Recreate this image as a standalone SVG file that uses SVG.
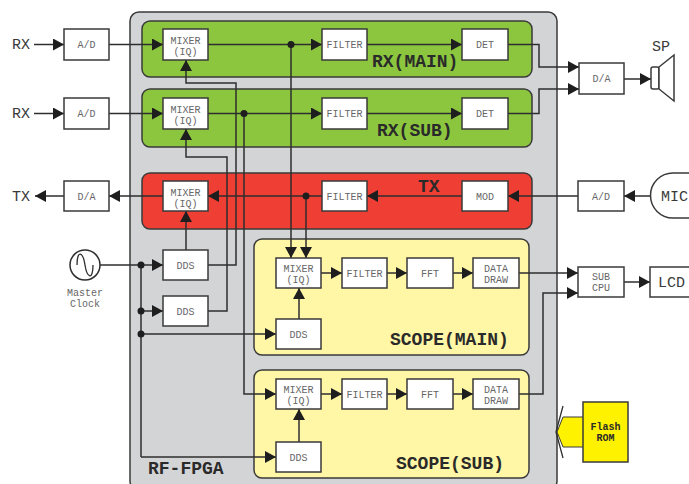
<svg xmlns="http://www.w3.org/2000/svg" width="689" height="484" viewBox="0 0 689 484">
<style>
.blk{fill:#fff;stroke:#3a3a3a;stroke-width:1.5}
.t{font-family:"Liberation Mono",monospace;font-size:10px;fill:#666;text-anchor:middle}
.big{font-family:"Liberation Mono",monospace;font-size:18px;font-weight:bold;fill:#2a2a2a}
.ext{font-family:"Liberation Mono",monospace;font-size:15px;fill:#3a3a3a}
.w{fill:none;stroke:#2e2e2e;stroke-width:1.5}
.a{marker-end:url(#ah)}
.dot{fill:#1e1e1e}
</style>
<defs>
<marker id="ah" markerUnits="userSpaceOnUse" markerWidth="11" markerHeight="12" refX="11" refY="6" orient="auto">
<path d="M0,0 L11,6 L0,12 z" fill="#1e1e1e"/>
</marker>
</defs>

<g id="fpga">
<rect x="130" y="12" width="427" height="478" rx="9" fill="#d3d4d6" stroke="#3a3a3a" stroke-width="1.5"/>
<text class="big" x="148" y="474">RF-FPGA</text>
</g>
<g id="rxmain-grp">
<rect x="142" y="21" width="390" height="56" rx="8" fill="#8cc63f" stroke="#3a3a3a" stroke-width="1.5"/>
<text class="big" x="372" y="67">RX(MAIN)</text>
</g>
<g id="rxsub-grp">
<rect x="142" y="89" width="390" height="58" rx="8" fill="#8cc63f" stroke="#3a3a3a" stroke-width="1.5"/>
<text class="big" x="377" y="136">RX(SUB)</text>
</g>
<g id="tx-grp">
<rect x="142" y="173" width="390" height="56" rx="8" fill="#ef3e33" stroke="#3a3a3a" stroke-width="1.5"/>
<text class="big" x="418" y="192">TX</text>
</g>
<g id="scopemain-grp">
<rect x="254" y="239" width="275" height="116" rx="8" fill="#fff6a6" stroke="#3a3a3a" stroke-width="1.5"/>
<text class="big" x="390" y="345">SCOPE(MAIN)</text>
</g>
<g id="scopesub-grp">
<rect x="254" y="370" width="275" height="108" rx="8" fill="#fff6a6" stroke="#3a3a3a" stroke-width="1.5"/>
<text class="big" x="396" y="469">SCOPE(SUB)</text>
</g>

<g id="connectors">
<path class="w a" d="M34,44.5 H64"/>
<path class="w a" d="M109,44.5 H163"/>
<path class="w a" d="M208,44.5 H322"/>
<path class="w a" d="M367,44.5 H462"/>
<path class="w a" d="M508,44.5 H539 V67 H579"/>
<path class="w a" d="M34,113.5 H64"/>
<path class="w a" d="M109,113.5 H163"/>
<path class="w a" d="M208,113.5 H322"/>
<path class="w a" d="M367,113.5 H462"/>
<path class="w a" d="M508,113.5 H539 V89 H579"/>
<path class="w a" d="M624,79 H651"/>
<path class="w a" d="M651,196 H624"/>
<path class="w a" d="M578,196 H508"/>
<path class="w a" d="M462,196 H367"/>
<path class="w a" d="M322,196 H208"/>
<path class="w a" d="M163,196 H109"/>
<path class="w a" d="M64,196 H35"/>
<path class="w a" d="M291,44.5 V258"/>
<path class="w a" d="M306,196 V258"/>
<path class="w a" d="M244,113.5 V394 H276"/>
<path class="w a" d="M208,265 H236 V83 H186 V60"/>
<path class="w a" d="M208,311 H227 V157 H186 V129"/>
<path class="w a" d="M186,250 V211"/>
<path class="w a" d="M100,265 H163"/>
<path class="w" d="M141,265 V457"/>
<path class="w a" d="M141,311 H163"/>
<path class="w a" d="M141,334 H276"/>
<path class="w a" d="M141,457 H276"/>
<path class="w a" d="M321,273 H342"/>
<path class="w a" d="M387,273 H407"/>
<path class="w a" d="M453,273 H473"/>
<path class="w a" d="M299,319 V288"/>
<path class="w a" d="M519,273 H578"/>
<path class="w a" d="M321,394 H342"/>
<path class="w a" d="M387,394 H407"/>
<path class="w a" d="M453,394 H473"/>
<path class="w a" d="M299,442 V409"/>
<path class="w a" d="M519,394 H543 V293 H578"/>
<path class="w a" d="M624,282 H650"/>
<circle class="dot" cx="291" cy="44.5" r="3.5"/>
<circle class="dot" cx="244" cy="113.5" r="3.5"/>
<circle class="dot" cx="306" cy="196" r="3.5"/>
<circle class="dot" cx="141" cy="265" r="3.5"/>
<circle class="dot" cx="141" cy="311" r="3.5"/>
<circle class="dot" cx="141" cy="334" r="3.5"/>
</g>

<g id="rx1-label"><text class="ext" x="12" y="49">RX</text></g>
<g id="rx2-label"><text class="ext" x="12" y="118">RX</text></g>
<g id="tx-label"><text class="ext" x="12" y="201">TX</text></g>

<g id="ad1"><rect class="blk" x="64" y="29" width="45" height="31"/><text class="t" x="86.5" y="48">A/D</text></g>
<g id="mixer1"><rect class="blk" x="163" y="29" width="45" height="31"/><text class="t" x="185.5" y="44">MIXER</text><text class="t" x="185.5" y="55">(IQ)</text></g>
<g id="filter1"><rect class="blk" x="322" y="29" width="45" height="31"/><text class="t" x="344.5" y="48">FILTER</text></g>
<g id="det1"><rect class="blk" x="462" y="29" width="46" height="31"/><text class="t" x="485" y="48">DET</text></g>
<g id="ad2"><rect class="blk" x="64" y="98" width="45" height="31"/><text class="t" x="86.5" y="117">A/D</text></g>
<g id="mixer2"><rect class="blk" x="163" y="98" width="45" height="31"/><text class="t" x="185.5" y="113">MIXER</text><text class="t" x="185.5" y="124">(IQ)</text></g>
<g id="filter2"><rect class="blk" x="322" y="98" width="45" height="31"/><text class="t" x="344.5" y="117">FILTER</text></g>
<g id="det2"><rect class="blk" x="462" y="98" width="46" height="31"/><text class="t" x="485" y="117">DET</text></g>
<g id="da-sp"><rect class="blk" x="579" y="63" width="45" height="31"/><text class="t" x="601.5" y="82">D/A</text></g>
<g id="speaker">
<rect x="651" y="67" width="8" height="22" rx="2" fill="#fff" stroke="#3a3a3a" stroke-width="1.5"/>
<path d="M659,67 L674,55 L674,101 L659,89 Z" fill="#fff" stroke="#3a3a3a" stroke-width="1.5"/>
<text class="ext" x="652" y="51">SP</text>
</g>
<g id="da-tx"><rect class="blk" x="64" y="181" width="45" height="30"/><text class="t" x="86.5" y="199.5">D/A</text></g>
<g id="mixer-tx"><rect class="blk" x="163" y="181" width="45" height="30"/><text class="t" x="185.5" y="195.5">MIXER</text><text class="t" x="185.5" y="206.5">(IQ)</text></g>
<g id="filter-tx"><rect class="blk" x="322" y="181" width="45" height="30"/><text class="t" x="344.5" y="199.5">FILTER</text></g>
<g id="mod"><rect class="blk" x="462" y="181" width="46" height="30"/><text class="t" x="485" y="199.5">MOD</text></g>
<g id="ad-mic"><rect class="blk" x="578" y="181" width="46" height="30"/><text class="t" x="601" y="199.5">A/D</text></g>
<g id="mic">
<path d="M695,173 H673 A22.5,22.5 0 0 0 673,218 H695" fill="#fff" stroke="#3a3a3a" stroke-width="1.5"/>
<text class="ext" x="661" y="201">MIC</text>
</g>
<g id="clock">
<circle cx="85" cy="265" r="15" fill="#fff" stroke="#2e2e2e" stroke-width="1.5"/>
<path d="M77,265 C77,249 83,252 85,265 C87,278 93,281 93,265" fill="none" stroke="#2e2e2e" stroke-width="1.3"/>
<text class="t" x="85" y="296">Master</text>
<text class="t" x="85" y="307">Clock</text>
</g>
<g id="dds1"><rect class="blk" x="163" y="250" width="45" height="30"/><text class="t" x="185.5" y="268.5">DDS</text></g>
<g id="dds2"><rect class="blk" x="163" y="296" width="45" height="30"/><text class="t" x="185.5" y="314.5">DDS</text></g>
<g id="sm-mixer"><rect class="blk" x="276" y="258" width="45" height="30"/><text class="t" x="298.5" y="272">MIXER</text><text class="t" x="298.5" y="283">(IQ)</text></g>
<g id="sm-filter"><rect class="blk" x="342" y="258" width="45" height="30"/><text class="t" x="364.5" y="276.5">FILTER</text></g>
<g id="sm-fft"><rect class="blk" x="407" y="258" width="46" height="30"/><text class="t" x="430" y="276.5">FFT</text></g>
<g id="sm-data"><rect class="blk" x="473" y="258" width="46" height="30"/><text class="t" x="496" y="272">DATA</text><text class="t" x="496" y="283">DRAW</text></g>
<g id="sm-dds"><rect class="blk" x="276" y="319" width="45" height="30"/><text class="t" x="298.5" y="337.5">DDS</text></g>
<g id="ss-mixer"><rect class="blk" x="276" y="379" width="45" height="30"/><text class="t" x="298.5" y="393">MIXER</text><text class="t" x="298.5" y="404">(IQ)</text></g>
<g id="ss-filter"><rect class="blk" x="342" y="379" width="45" height="30"/><text class="t" x="364.5" y="397.5">FILTER</text></g>
<g id="ss-fft"><rect class="blk" x="407" y="379" width="46" height="30"/><text class="t" x="430" y="397.5">FFT</text></g>
<g id="ss-data"><rect class="blk" x="473" y="379" width="46" height="30"/><text class="t" x="496" y="393">DATA</text><text class="t" x="496" y="404">DRAW</text></g>
<g id="ss-dds"><rect class="blk" x="276" y="442" width="45" height="30"/><text class="t" x="298.5" y="460.5">DDS</text></g>
<g id="subcpu"><rect class="blk" x="578" y="267" width="46" height="30"/><text class="t" x="601" y="280">SUB</text><text class="t" x="601" y="291">CPU</text></g>
<g id="lcd"><rect class="blk" x="650" y="267" width="45" height="30"/><text class="ext" x="658" y="287">LCD</text></g>
<g id="flash">
<path d="M583,417 H563 L557,432 L563,447 H583" fill="#fff200" stroke="#3a3a3a" stroke-width="1"/>
<path d="M563,406 L556,432 L563,458" fill="none" stroke="#2e2e2e" stroke-width="1.3"/>
<rect x="583" y="402" width="45" height="60" fill="#fff200" stroke="#3a3a3a" stroke-width="1.5"/>
<text x="605.5" y="430" text-anchor="middle" font-family="Liberation Mono, monospace" font-size="10" font-weight="bold" fill="#2a2a2a">Flash</text>
<text x="605.5" y="441" text-anchor="middle" font-family="Liberation Mono, monospace" font-size="10" font-weight="bold" fill="#2a2a2a">ROM</text>
</g>
</svg>
